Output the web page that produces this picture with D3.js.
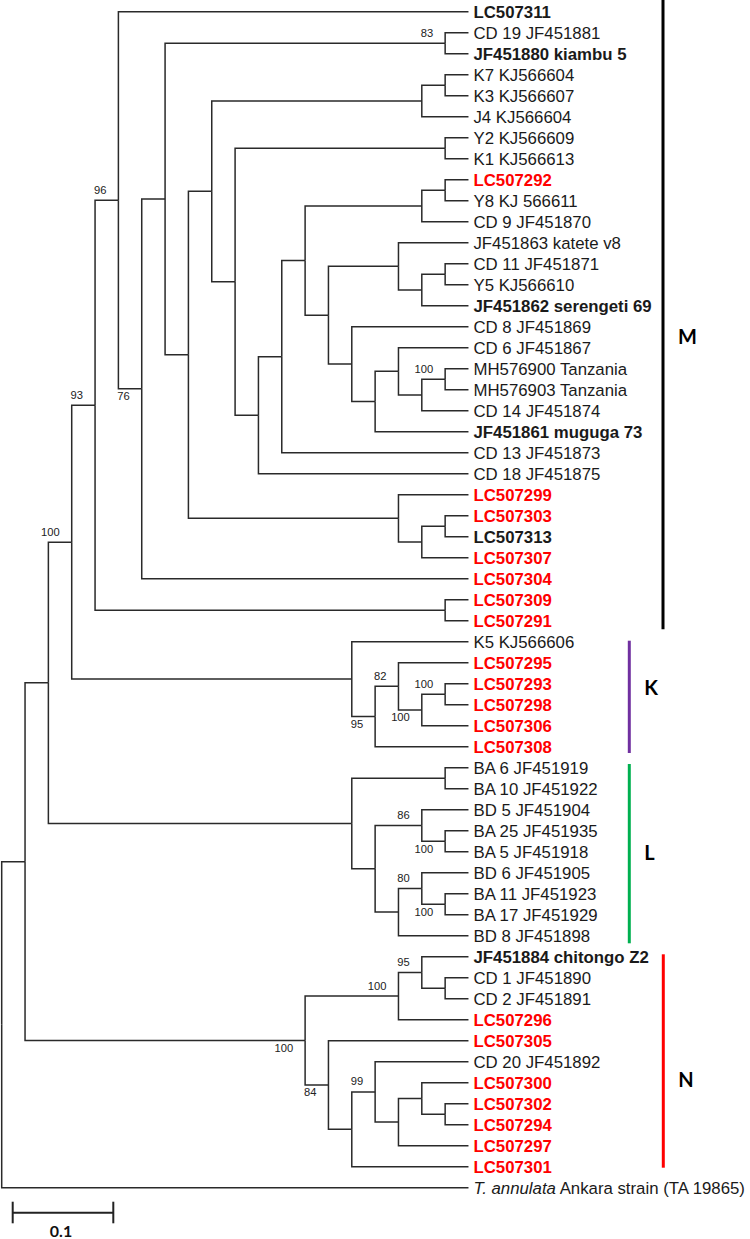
<!DOCTYPE html>
<html><head><meta charset="utf-8">
<script src="https://cdn.jsdelivr.net/npm/d3@7"></script>
<style>body{margin:0;background:#fff} svg{display:block}</style>
</head><body>
<svg id="chart" width="750" height="1239"></svg>
<script>
// ---- Tree data: [node, parent, branch length (subst./site), bootstrap] in preorder ----
const edges = [
  ["root", null, 0],
  ["n1", "root", 0.0232],
  ["n2", "n1", 0.0232],
  ["n3", "n2", 0.0232, 100],
  ["n4", "n3", 0.0232, 93],
  ["n5", "n4", 0.0232, 96],
  ["LC507311", "n5", 0.348],
  ["n6", "n5", 0.0232, 76],
  ["n7", "n6", 0.0232],
  ["n8", "n7", 0.2784, 83],
  ["CD 19 JF451881", "n8", 0.0232],
  ["JF451880 kiambu 5", "n8", 0.0232],
  ["n9", "n7", 0.0232],
  ["n10", "n9", 0.0232],
  ["n11", "n10", 0.2088],
  ["n12", "n11", 0.0232],
  ["K7 KJ566604", "n12", 0.0232],
  ["K3 KJ566607", "n12", 0.0232],
  ["J4 KJ566604", "n11", 0.0464],
  ["n13", "n10", 0.0232],
  ["n14", "n13", 0.2088],
  ["Y2 KJ566609", "n14", 0.0232],
  ["K1 KJ566613", "n14", 0.0232],
  ["n15", "n13", 0.0232],
  ["n16", "n15", 0.0232],
  ["n17", "n16", 0.0232],
  ["n18", "n17", 0.116],
  ["n19", "n18", 0.0232],
  ["LC507292", "n19", 0.0232],
  ["Y8 KJ 566611", "n19", 0.0232],
  ["CD 9 JF451870", "n18", 0.0464],
  ["n20", "n17", 0.0232],
  ["n21", "n20", 0.0696],
  ["JF451863 katete v8", "n21", 0.0696],
  ["n22", "n21", 0.0232],
  ["n23", "n22", 0.0232],
  ["CD 11 JF451871", "n23", 0.0232],
  ["Y5 KJ566610", "n23", 0.0232],
  ["JF451862 serengeti 69", "n22", 0.0464],
  ["n24", "n20", 0.0232],
  ["CD 8 JF451869", "n24", 0.116],
  ["n25", "n24", 0.0232],
  ["n26", "n25", 0.0232],
  ["CD 6 JF451867", "n26", 0.0696],
  ["n27", "n26", 0.0232],
  ["n28", "n27", 0.0232, 100],
  ["MH576900 Tanzania", "n28", 0.0232],
  ["MH576903 Tanzania", "n28", 0.0232],
  ["CD 14 JF451874", "n27", 0.0464],
  ["JF451861 muguga 73", "n25", 0.0928],
  ["CD 13 JF451873", "n16", 0.1856],
  ["CD 18 JF451875", "n15", 0.2088],
  ["n29", "n9", 0.2088],
  ["LC507299", "n29", 0.0696],
  ["n30", "n29", 0.0232],
  ["n31", "n30", 0.0232],
  ["LC507303", "n31", 0.0232],
  ["LC507313", "n31", 0.0232],
  ["LC507307", "n30", 0.0464],
  ["LC507304", "n6", 0.3248],
  ["n32", "n4", 0.348],
  ["LC507309", "n32", 0.0232],
  ["LC507291", "n32", 0.0232],
  ["n33", "n3", 0.2784],
  ["K5 KJ566606", "n33", 0.116],
  ["n34", "n33", 0.0232, 95],
  ["n35", "n34", 0.0232, 82],
  ["LC507295", "n35", 0.0696],
  ["n36", "n35", 0.0232, 100],
  ["n37", "n36", 0.0232, 100],
  ["LC507293", "n37", 0.0232],
  ["LC507298", "n37", 0.0232],
  ["LC507306", "n36", 0.0464],
  ["LC507308", "n34", 0.0928],
  ["n38", "n2", 0.3016],
  ["n39", "n38", 0.0928],
  ["BA 6 JF451919", "n39", 0.0232],
  ["BA 10 JF451922", "n39", 0.0232],
  ["n40", "n38", 0.0232],
  ["n41", "n40", 0.0464, 86],
  ["BD 5 JF451904", "n41", 0.0464],
  ["n42", "n41", 0.0232, 100],
  ["BA 25 JF451935", "n42", 0.0232],
  ["BA 5 JF451918", "n42", 0.0232],
  ["n43", "n40", 0.0232],
  ["n44", "n43", 0.0232, 80],
  ["BD 6 JF451905", "n44", 0.0464],
  ["n45", "n44", 0.0232, 100],
  ["BA 11 JF451923", "n45", 0.0232],
  ["BA 17 JF451929", "n45", 0.0232],
  ["BD 8 JF451898", "n43", 0.0696],
  ["n46", "n1", 0.2784, 100],
  ["n47", "n46", 0.0928, 100],
  ["n48", "n47", 0.0232, 95],
  ["JF451884 chitongo Z2", "n48", 0.0464],
  ["n49", "n48", 0.0232],
  ["CD 1 JF451890", "n49", 0.0232],
  ["CD 2 JF451891", "n49", 0.0232],
  ["LC507296", "n47", 0.0696],
  ["n50", "n46", 0.0232, 84],
  ["LC507305", "n50", 0.1392],
  ["n51", "n50", 0.0232],
  ["n52", "n51", 0.0232, 99],
  ["CD 20 JF451892", "n52", 0.0928],
  ["n53", "n52", 0.0232],
  ["n54", "n53", 0.0232],
  ["LC507300", "n54", 0.0464],
  ["n55", "n54", 0.0232],
  ["LC507302", "n55", 0.0232],
  ["LC507294", "n55", 0.0232],
  ["LC507297", "n53", 0.0696],
  ["LC507301", "n51", 0.116],
  ["T. annulata Ankara strain (TA 19865)", "root", 0.464]
];

// isolates of this study (red) and reference strains (bold black)
const studyIsolates = ["LC507292","LC507299","LC507303","LC507307","LC507304","LC507309","LC507291",
  "LC507295","LC507293","LC507298","LC507306","LC507308","LC507296","LC507305","LC507300",
  "LC507302","LC507294","LC507297","LC507301"];
const referenceStrains = ["LC507311","JF451880 kiambu 5","JF451862 serengeti 69","JF451861 muguga 73",
  "LC507313","JF451884 chitongo Z2"];
const outgroupName = "T. annulata Ankara strain (TA 19865)";
const outgroupItalic = "T. annulata";

// clades
const cladeNames = ["M", "K", "L", "N"];
const cladeFirstLeaf = ["LC507311", "K5 KJ566606", "BA 6 JF451919", "JF451884 chitongo Z2"];
const cladeLastLeaf = ["LC507291", "LC507308", "BD 8 JF451898", "LC507301"];

const scaleBarValue = 0.1;

// ---- Layout / style ----
const svg = d3.select("#chart");
const cladeStyle = {
  color: ["#000000", "#7030a0", "#00b050", "#ff0000"],
  barX: [663, 629.3, 629.3, 663.3],
  padTop: [11.7, 1, 3.7, 2.4],
  padBottom: [8.6, 6.3, 7.6, 1],
  labelY: [337, 688.3, 852.8, 1080]
};

const root = d3.stratify().id(d => d[0]).parentId(d => d[1])(edges);
root.eachBefore(n => { n.dist = n.parent ? n.parent.dist + n.data[2] : 0; });
let li = 0;
root.eachBefore(n => { if (!n.children) n.leafIndex = li++; });
const nLeaves = li;

const xScale = d3.scaleLinear().domain([0, scaleBarValue]).range([1.7, 1.7 + 100.6]);
const yScale = d3.scaleLinear().domain([0, nLeaves - 1]).range([11.7, 1187.7]);

root.eachAfter(n => {
  n.px = xScale(n.dist);
  n.py = n.children ? (n.children[0].py + n.children[n.children.length - 1].py) / 2 : yScale(n.leafIndex);
});

// branches
svg.append("g")
  .attr("fill", "none").attr("stroke", "#2a2a2a").attr("stroke-width", 1.5)
  .selectAll("path").data(root.links()).join("path")
  .attr("d", l => `M${l.source.px},${l.source.py}V${l.target.py}H${l.target.px}`);

// leaf labels
const leafG = svg.append("g").attr("font-family", "'Liberation Sans', Arial, sans-serif").attr("font-size", 16.8);
leafG.selectAll("text").data(root.leaves()).join("text")
  .attr("x", d => d.px + 5)
  .attr("y", d => d.py + 6)
  .attr("fill", d => studyIsolates.includes(d.id) ? "#ff0000" : "#1a1a1a")
  .attr("font-weight", d => (studyIsolates.includes(d.id) || referenceStrains.includes(d.id)) ? "bold" : "normal")
  .each(function(d) {
    const t = d3.select(this);
    if (d.id === outgroupName) {
      t.append("tspan").attr("font-style", "italic").text(outgroupItalic);
      t.append("tspan").text(d.id.slice(outgroupItalic.length));
    } else {
      t.text(d.id);
    }
  });

// bootstrap values
const bsNodes = root.descendants().filter(n => n.data[3] != null);
svg.append("g").attr("font-family", "'Liberation Sans', Arial, sans-serif").attr("font-size", 11.2)
  .attr("fill", "#222").attr("text-anchor", "end")
  .selectAll("text").data(bsNodes).join("text")
  .attr("x", n => n.px - 12)
  .attr("y", n => n.parent.children[0] === n ? n.py - 6.5 : n.py + 11.5)
  .text(n => n.data[3]);

// clade bars and letters
const leafY = {};
root.leaves().forEach(l => { leafY[l.id] = l.py; });
const cg = svg.append("g");
cladeNames.forEach((name, i) => {
  const x = cladeStyle.barX[i];
  cg.append("line")
    .attr("x1", x).attr("x2", x)
    .attr("y1", leafY[cladeFirstLeaf[i]] - cladeStyle.padTop[i])
    .attr("y2", leafY[cladeLastLeaf[i]] + cladeStyle.padBottom[i])
    .attr("stroke", cladeStyle.color[i]).attr("stroke-width", 3);
  cg.append("text")
    .attr("x", x + 15).attr("y", cladeStyle.labelY[i] + 7)
    .attr("font-family", "Lato, 'Open Sans', sans-serif").attr("font-weight", "bold")
    .attr("font-size", 20).attr("fill", "#000")
    .text(name);
});

// scale bar
const barLen = xScale(scaleBarValue) - xScale(0);
const sb = svg.append("g").attr("stroke", "#222").attr("stroke-width", 2);
const bx0 = 12.7, by = 1212.7;
sb.append("line").attr("x1", bx0).attr("x2", bx0 + barLen).attr("y1", by).attr("y2", by);
sb.append("line").attr("x1", bx0).attr("x2", bx0).attr("y1", by - 11).attr("y2", by + 10.6);
sb.append("line").attr("x1", bx0 + barLen).attr("x2", bx0 + barLen).attr("y1", by - 11).attr("y2", by + 10.6);
svg.append("text").attr("x", bx0 + barLen / 2 - 2).attr("y", 1237)
  .attr("text-anchor", "middle").attr("font-family", "Lato, 'Open Sans', sans-serif")
  .attr("font-weight", "bold").attr("font-size", 16).attr("fill", "#111")
  .text(scaleBarValue);
</script>
</body></html>
